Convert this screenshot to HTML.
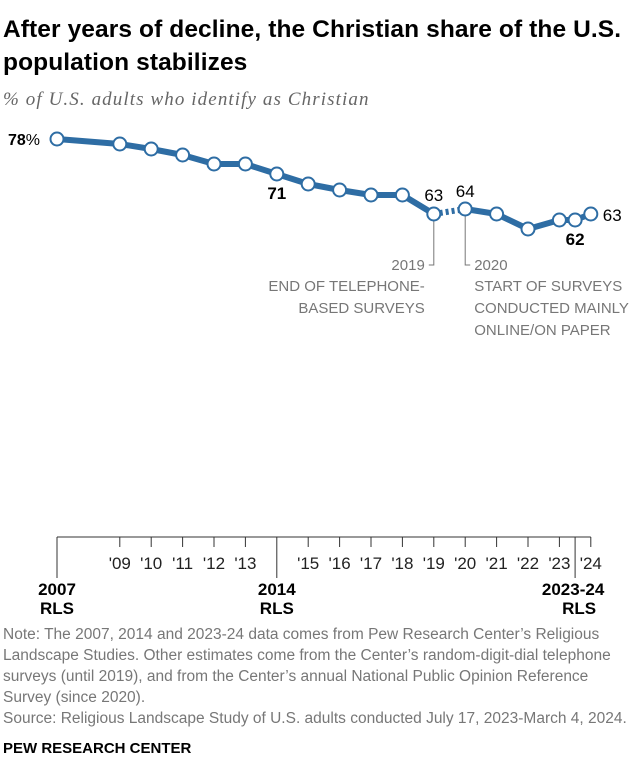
<!DOCTYPE html>
<html><head><meta charset="utf-8"><style>
body{margin:0;background:#fff;width:644px;height:780px;overflow:hidden;font-family:"Liberation Sans",sans-serif;}
#title{position:absolute;left:3px;top:13px;width:640px;font-size:24.5px;font-weight:bold;line-height:33px;color:#000;letter-spacing:0.1px}
#sub{position:absolute;left:3px;top:89px;font-family:"Liberation Serif",serif;font-style:italic;font-size:19px;color:#666;letter-spacing:1.1px}
#notes{position:absolute;left:3px;top:624px;width:628px;font-size:15.5px;line-height:21px;color:#777}
#brand{position:absolute;left:3px;top:740px;font-size:15px;font-weight:bold;color:#000}
svg{position:absolute;left:0;top:0}
</style></head><body>
<div id="title">After years of decline, the Christian share of the U.S. population stabilizes</div>
<div id="sub">% of U.S. adults who identify as Christian</div>
<svg id="chart" width="644" height="780"></svg>
<div id="notes">Note: The 2007, 2014 and 2023-24 data comes from Pew Research Center’s Religious Landscape Studies. Other estimates come from the Center’s random-digit-dial telephone surveys (until 2019), and from the Center’s annual National Public Opinion Reference Survey (since 2020).<br>Source: Religious Landscape Study of U.S. adults conducted July 17, 2023-March 4, 2024.</div>
<div id="brand">PEW RESEARCH CENTER</div>
<script>
const years=[2007,2009,2010,2011,2012,2013,2014,2015,2016,2017,2018,2019,2020,2021,2022,2023,2023.5,2024];
const values=[78,77,76,74.8,73,73,71,69,67.8,66.8,66.8,63,64,63,60,61.8,61.8,63];
const tickYears=[2009,2010,2011,2012,2013,2015,2016,2017,2018,2019,2020,2021,2022,2023,2024];
const tickLabels=["'09","'10","'11","'12","'13","'15","'16","'17","'18","'19","'20","'21","'22","'23","'24"];
const rlsYears=[2007,2014,2023.5];
const rlsLabels=[["2007","RLS"],["2014","RLS"],["2023-24","RLS"]];
const NS="http://www.w3.org/2000/svg";
const svg=document.getElementById('chart');
const xs=t=>57+(t-2007)*31.4;
const ys=v=>139+(78-v)*5;
const C="#2e6da4";
function el(tag,attrs,parent){const e=document.createElementNS(NS,tag);for(const k in attrs)e.setAttribute(k,attrs[k]);(parent||svg).appendChild(e);return e;}
function txt(x,y,s,o,parent){const t=el('text',Object.assign({x:x,y:y,'font-size':15,fill:'#000','font-family':'Liberation Sans, sans-serif'},o||{}),parent);t.textContent=s;return t;}
const i19=years.indexOf(2019),i20=years.indexOf(2020);
let a=el('path',{d:`M${xs(2019)},${ys(values[i19])} V265 h-5`,stroke:'#777',fill:'none','stroke-width':1});

a=el('path',{d:`M${xs(2020)},${ys(values[i20])} V265 h5`,stroke:'#777',fill:'none','stroke-width':1});

const g1=el('g',{});

[['2019',270],['END OF TELEPHONE-',291],['BASED SURVEYS',313]].forEach(([s,y])=>{txt(xs(2019)-9,y,s,{'text-anchor':'end',fill:'#777'},g1);});
const g2=el('g',{});

[['2020',270],['START OF SURVEYS',291],['CONDUCTED MAINLY',313],['ONLINE/ON PAPER',335]].forEach(([s,y])=>{txt(xs(2020)+9,y,s,{fill:'#777'},g2);});
const pre=years.map((y,i)=>[xs(y),ys(values[i])]).slice(0,i19+1);
const post=years.map((y,i)=>[xs(y),ys(values[i])]).slice(i20);
let p=el('polyline',{points:pre.map(q=>q.join(',')).join(' '),fill:'none',stroke:C,'stroke-width':6,'stroke-linejoin':'round'});

p=el('polyline',{points:post.map(q=>q.join(',')).join(' '),fill:'none',stroke:C,'stroke-width':6,'stroke-linejoin':'round'});

p=el('line',{x1:xs(2019),y1:ys(values[i19]),x2:xs(2020),y2:ys(values[i20]),stroke:C,'stroke-width':6,'stroke-dasharray':'3,3'});

years.forEach((y,i)=>{const c=el('circle',{cx:xs(y),cy:ys(values[i]),r:6.5,fill:'#fff',stroke:C,'stroke-width':2});
});
let t=txt(40,145,'78',{'text-anchor':'end','font-weight':'bold','font-size':16});const ts=el('tspan',{'font-weight':'normal'},t);ts.textContent='%';

t=txt(xs(2014),199,'71',{'text-anchor':'middle','font-weight':'bold','font-size':17});
t=txt(xs(2019),201,'63',{'text-anchor':'middle','font-size':17});
t=txt(xs(2020),197,'64',{'text-anchor':'middle','font-size':17});
t=txt(xs(2023.5),245,'62',{'text-anchor':'middle','font-weight':'bold','font-size':17});
t=txt(xs(2024)+12,221,'63',{'font-size':17});
const ax=el('line',{x1:xs(2007),x2:xs(2024),y1:537,y2:537,stroke:'#333','stroke-width':1});

tickYears.forEach((y,i)=>{const l=el('line',{x1:xs(y),x2:xs(y),y1:537,y2:547,stroke:'#333'});

const tt=txt(xs(y),569,tickLabels[i],{'text-anchor':'middle',fill:'#222','font-size':17});
});
rlsYears.forEach((y,i)=>{const l=el('line',{x1:xs(y),x2:xs(y),y1:537,y2:578,stroke:'#333'});

const tt=txt(i===2?xs(y)-2:xs(y),595,rlsLabels[i][0],{'text-anchor':'middle','font-weight':'bold','font-size':17});

const t2=txt(i===2?xs(y)+4:xs(y),614,rlsLabels[i][1],{'text-anchor':'middle','font-weight':'bold','font-size':17});
});
</script>
</body></html>
